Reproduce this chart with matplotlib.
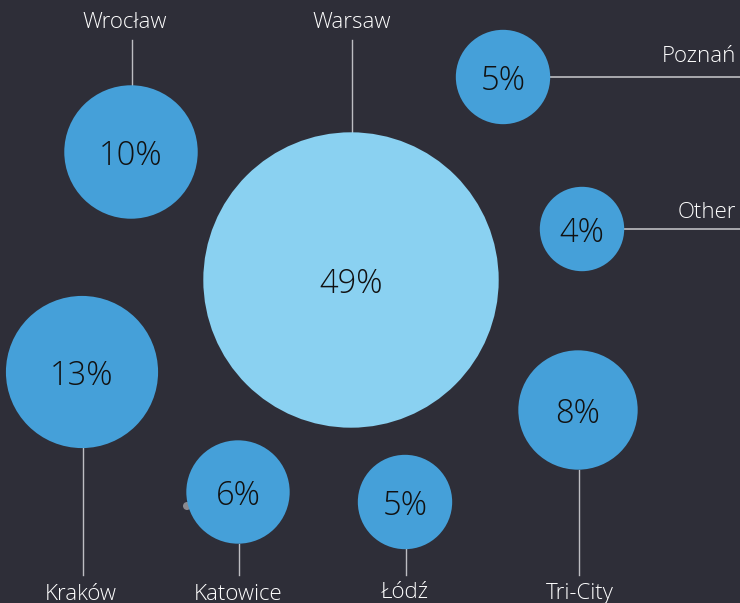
import matplotlib
matplotlib.use("Agg")
import matplotlib.pyplot as plt
from matplotlib.patches import Circle
import numpy as np

# Share of office stock by city (%)
cities = ["Warsaw", "Kraków", "Wrocław", "Tri-City", "Katowice", "Poznań", "Łódź", "Other"]
shares = [49, 13, 10, 8, 6, 5, 5, 4]

# Layout (pixel space): bubble centres, leader line end, label anchor
centres = {
    "Warsaw": (351, 280), "Kraków": (82, 372), "Wrocław": (131, 152),
    "Tri-City": (578, 410), "Katowice": (238, 492), "Poznań": (503, 77),
    "Łódź": (405, 502), "Other": (582, 229),
}
leaders = {
    # side, end coordinate of the leader, label position, alignment
    "Warsaw": ("up", 40, (352, 22), "center"),
    "Wrocław": ("up", 40, (125, 22), "center"),
    "Kraków": ("down", 575, (81, 594), "center"),
    "Katowice": ("down", 575, (238, 594), "center"),
    "Łódź": ("down", 575, (405, 592), "center"),
    "Tri-City": ("down", 575, (580, 594), "center"),
    "Poznań": ("right", 740, (736, 57), "right"),
    "Other": ("right", 740, (736, 213), "right"),
}

BG = "#2e2e38"
BLUE = "#45a0d9"
LIGHT = "#8ad1f1"
LINE = "#bdbdc2"
SCALE = 21.1  # radius per sqrt(percent)

fig = plt.figure(figsize=(7.40, 6.03), dpi=100, facecolor=BG)
ax = fig.add_axes([0, 0, 1, 1])
ax.set_facecolor(BG)
ax.set_xlim(0, 740)
ax.set_ylim(603, 0)
ax.set_aspect("equal")
ax.axis("off")

font = ["Open Sans", "DejaVu Sans"]

# small marker sitting behind the Katowice bubble
ax.add_patch(Circle((187, 506), 4, facecolor="#8a8a90", edgecolor="none", zorder=1))

for city, val in zip(cities, shares):
    cx, cy = centres[city]
    r = SCALE * np.sqrt(val)
    color = LIGHT if city == "Warsaw" else BLUE
    ax.add_patch(Circle((cx, cy), r, facecolor=color, edgecolor="none", zorder=2))
    ax.text(cx, cy + 4, f"{val}%", ha="center", va="center", fontsize=23.5,
            color="#111111", family=font, fontweight="light", zorder=3)

    side, end, (lx, ly), ha = leaders[city]
    if side == "up":
        ax.plot([cx + 1, cx + 1], [end, cy - r], color=LINE, lw=1, zorder=1)
    elif side == "down":
        ax.plot([cx + 1, cx + 1], [cy + r, end], color=LINE, lw=1, zorder=1)
    else:
        ax.plot([cx + r, end], [cy, cy], color=LINE, lw=1.2, zorder=1)
    ax.text(lx, ly, city, ha=ha, va="center", fontsize=16, color="white",
            family=font, fontweight="light", zorder=3)

fig.savefig("out.png", dpi=100, facecolor=BG)
